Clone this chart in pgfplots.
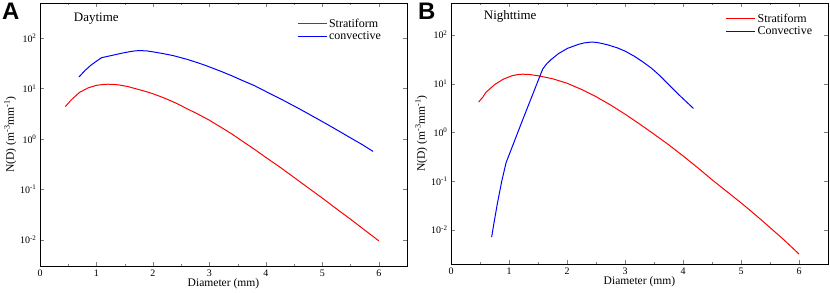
\documentclass[border=0pt]{standalone}
\usepackage{fontspec}
\setmainfont{Liberation Serif}
\newfontfamily\arialfont{Liberation Sans}
\usepackage{pgfplots}
\usepackage{pgfplotstable}
\pgfplotsset{compat=1.18}
\definecolor{sred}{RGB}{255,0,0}
\definecolor{cblue}{RGB}{0,0,255}
\newcommand{\tickfont}{\fontsize{10}{12}\selectfont}
\newcommand{\labfont}{\fontsize{11.6}{13}\selectfont}
\newcommand{\legfont}{\fontsize{12}{14}\selectfont}

\pgfplotstableread{
x y
0.45 4.4
0.55 5.9
0.7 8.4
0.85 10.3
1.0 11.6
1.1 12.0
1.2 12.2
1.3 12.1
1.4 11.8
1.55 11.0
1.7 9.9
1.85 8.9
2.0 7.9
2.2 6.5
2.4 5.2
2.6 4.0
2.8 3.1
3.0 2.35
3.2 1.72
3.4 1.25
3.6 0.88
3.8 0.62
4.0 0.43
4.25 0.275
4.5 0.172
4.75 0.107
5.0 0.067
5.25 0.041
5.5 0.0255
5.75 0.0155
6.0 0.0095
}\dayS
\pgfplotstableread{
x y
0.69 17
0.8 23
0.9 29
1.0 35
1.09 41
1.3 46.2
1.45 50.4
1.6 54.3
1.7 56.3
1.8 56.6
1.9 55.8
2.0 53.6
2.18 49.5
2.36 45.1
2.6 38.2
2.8 32.4
2.95 28.3
3.2 22.1
3.4 17.9
3.54 15.2
3.8 11.4
4.0 8.75
4.3 5.92
4.61 3.87
4.8 2.95
5.0 2.21
5.2 1.65
5.5 1.05
5.7 0.78
5.9 0.565
}\dayC
\pgfplotstableread{
x y
0.477 4.2
0.55 5.3
0.6 6.6
0.75 9.5
0.9 12.3
1.05 14.5
1.15 15.3
1.235 15.6
1.35 15.4
1.5 14.5
1.75 12.6
2.0 10.2
2.25 7.6
2.5 5.4
2.75 3.65
3.0 2.37
3.25 1.49
3.5 0.92
3.75 0.56
4.0 0.33
4.25 0.19
4.5 0.107
4.75 0.062
5.0 0.036
5.25 0.0203
5.5 0.0112
5.75 0.0061
6.0 0.0032
}\nightS
\pgfplotstableread{
x y
0.70 0.0071
0.75 0.016
0.80 0.035
0.875 0.10
0.95 0.24
1.235 1.8
1.58 19.8
1.65 25.5
1.72 30.7
1.85 41
2.01 53
2.2 64
2.3 68.5
2.41 71
2.5 70.3
2.58 67.5
2.7 62.5
2.87 54
3.0 46.5
3.16 36.5
3.3 28.3
3.45 21
3.6 14.6
3.73 10.2
3.95 5.6
4.18 3.1
}\nightC

\pgfplotsset{
  every axis/.append style={
  scale only axis,
  xmin=0, xmax=6.5,
  xtick={0,1,...,6}, minor x tick num=1,
  tick align=inside,
  xticklabel style={font=\tickfont},
  yticklabel style={font=\tickfont},
  xlabel={Diameter (mm)},
  ylabel={N(D) (m\textsuperscript{-3}mm\textsuperscript{-1})},
  xlabel style={font=\labfont, yshift=5bp},
  ylabel style={font=\labfont, yshift=-3bp},
  legend style={draw=none, fill=none, font=\legfont,
    anchor=north west, row sep=-1pt, inner sep=0pt},
  legend cell align=left,
  major tick length=4bp, minor tick length=2bp,
  axis line style={line width=0.8pt},
  },
  /pgf/number format/assume math mode=true,
}

\begin{document}
\begin{tikzpicture}
\path[use as bounding box] (0,0) rectangle (830bp,293bp);
\begin{axis}[at={(40bp,27bp)}, anchor=south west,
  width=367bp, height=263bp, ymode=log, log basis y=10, ymin=0.003, ymax=500,
  ytick={0.01,0.1,1,10,100},
  yticklabel={10\textsuperscript{\pgfmathparse{int(round(\tick))}\pgfmathresult}},
  legend style={at={(rel axis cs:0.70,1)}, yshift=-13.5bp}]
\addplot[sred, line width=1pt, no marks, forget plot] table[x=x,y=y] {\dayS};
\addplot[cblue, line width=1pt, no marks, forget plot] table[x=x,y=y] {\dayC};
\addlegendimage{sred, line width=1pt, legend image code/.code={\draw[sred, line width=1pt] (0bp,0bp) -- (29bp,0bp);}}
\addlegendentry{Stratiform}
\addlegendimage{cblue, line width=1pt, legend image code/.code={\draw[cblue, line width=1pt] (0bp,0bp) -- (29bp,0bp);}}
\addlegendentry{convective}
\node[anchor=west, font=\fontsize{13}{15}\selectfont] at (rel axis cs:0.083,0.94) {Daytime};
\end{axis}
\begin{axis}[at={(451bp,29bp)}, anchor=south west,
  width=377bp, height=261bp, ymode=log, log basis y=10, ymin=0.002, ymax=450,
  ytick={0.01,0.1,1,10,100},
  yticklabel={10\textsuperscript{\pgfmathparse{int(round(\tick))}\pgfmathresult}},
  legend style={at={(rel axis cs:0.728,1)}, yshift=-8.5bp}]
\addplot[sred, line width=1pt, no marks, forget plot] table[x=x,y=y] {\nightS};
\addplot[cblue, line width=1pt, no marks, forget plot] table[x=x,y=y] {\nightC};
\addlegendimage{sred, line width=1pt, legend image code/.code={\draw[sred, line width=1pt] (0bp,0bp) -- (29bp,0bp);}}
\addlegendentry{Stratiform}
\addlegendimage{cblue, line width=1pt, legend image code/.code={\draw[cblue, line width=1pt] (0bp,0bp) -- (29bp,0bp);}}
\addlegendentry{Convective}
\node[anchor=west, font=\fontsize{13}{15}\selectfont] at (rel axis cs:0.078,0.95) {Nighttime};
\end{axis}
\node[anchor=north west, font=\arialfont\bfseries\fontsize{24}{26}\selectfont, inner sep=0pt] at (2bp,290bp) {A};
\node[anchor=north west, font=\arialfont\bfseries\fontsize{24}{26}\selectfont, inner sep=0pt] at (418bp,290bp) {B};
\end{tikzpicture}
\end{document}
